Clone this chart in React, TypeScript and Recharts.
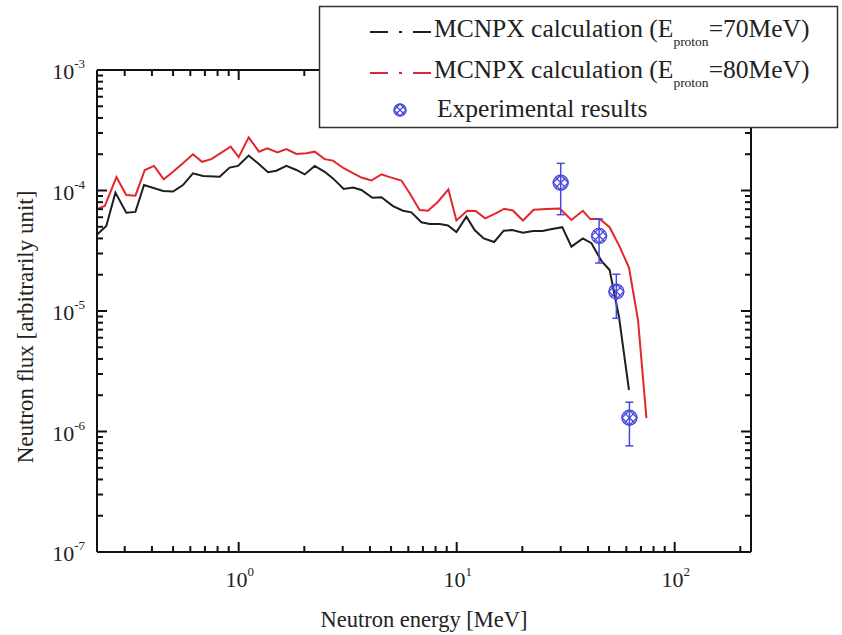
import React from 'react';
import {
  ComposedChart,
  Line,
  Scatter,
  XAxis,
  YAxis,
  ErrorBar,
  Customized,
} from 'recharts';

// ---------- data ----------
const energy70 = [
  0.223, 0.247, 0.272, 0.305, 0.336, 0.368, 0.45, 0.5, 0.555, 0.617, 0.686, 0.818, 0.909, 0.993,
  1.111, 1.226, 1.363, 1.489, 1.655, 1.839, 2.008, 2.232, 2.48, 2.708, 3.031, 3.344, 3.655, 4.106,
  4.515, 5.104, 5.672, 6.198, 6.888, 7.517, 8.356, 9.12, 9.97, 11.08, 12.09, 13.3, 14.86, 16.43,
  17.97, 20.14, 22.39, 24.8, 27.0, 30.5, 33.6, 37.9, 41.5, 46.1, 50.3, 55.5, 61.7,
];
const flux70 = [
  4.27e-5, 5.07e-5, 9.6e-5, 6.55e-5, 6.64e-5, 1.11e-4, 9.9e-5, 9.8e-5, 1.11e-4, 1.39e-4, 1.32e-4,
  1.3e-4, 1.55e-4, 1.6e-4, 1.95e-4, 1.68e-4, 1.42e-4, 1.46e-4, 1.6e-4, 1.48e-4, 1.36e-4, 1.6e-4,
  1.43e-4, 1.26e-4, 1.03e-4, 1.06e-4, 1.01e-4, 8.7e-5, 8.8e-5, 7.43e-5, 6.79e-5, 6.59e-5, 5.45e-5,
  5.27e-5, 5.27e-5, 5.13e-5, 4.53e-5, 6.07e-5, 4.7e-5, 4.0e-5, 3.74e-5, 4.64e-5, 4.7e-5, 4.47e-5,
  4.61e-5, 4.61e-5, 4.76e-5, 4.96e-5, 3.42e-5, 4.01e-5, 3.65e-5, 2.61e-5, 2.19e-5, 8.97e-6, 2.21e-6,
];

const energy80 = [
  0.223, 0.243, 0.275, 0.305, 0.336, 0.371, 0.409, 0.453, 0.5, 0.555, 0.617, 0.679, 0.749, 0.919,
  1.0, 1.111, 1.239, 1.354, 1.505, 1.655, 1.839, 2.045, 2.232, 2.48, 2.708, 3.031, 3.655, 4.062,
  4.515, 5.018, 5.577, 6.087, 6.76, 7.385, 8.21, 9.16, 9.97, 11.17, 12.22, 13.51, 15.1, 16.55, 18.1,
  20.14, 22.55, 25.9, 29.7, 33.6, 37.9, 41.0, 45.3, 50.3, 55.9, 61.7, 67.9, 74.2,
];
const flux80 = [
  6.98e-5, 7.43e-5, 1.29e-4, 9.18e-5, 9.06e-5, 1.48e-4, 1.6e-4, 1.24e-4, 1.43e-4, 1.68e-4, 2.0e-4,
  1.73e-4, 1.82e-4, 2.31e-4, 1.89e-4, 2.76e-4, 2.1e-4, 2.24e-4, 2.07e-4, 2.21e-4, 2.01e-4, 2.04e-4,
  2.1e-4, 1.82e-4, 1.77e-4, 1.53e-4, 1.28e-4, 1.21e-4, 1.36e-4, 1.28e-4, 1.21e-4, 9.49e-5, 6.89e-5,
  6.79e-5, 8.07e-5, 1.02e-4, 5.64e-5, 6.79e-5, 6.76e-5, 5.87e-5, 6.47e-5, 7.06e-5, 6.82e-5, 5.64e-5,
  6.93e-5, 7.03e-5, 7.1e-5, 5.69e-5, 6.79e-5, 5.79e-5, 5.79e-5, 4.96e-5, 3.42e-5, 2.29e-5, 8.41e-6,
  1.29e-6,
];

const expEnergy = [30, 45, 54, 62];
const expFlux = [1.16e-4, 4.2e-5, 1.45e-5, 1.3e-6];
const expLow = [6.3e-5, 2.5e-5, 8.7e-6, 7.6e-7];
const expHigh = [1.68e-4, 5.8e-5, 2.02e-5, 1.75e-6];

const xTicks = [
  0.3, 0.4, 0.5, 0.6, 0.7, 0.8, 0.9, 1, 2, 3, 4, 5, 6, 7, 8, 9, 10, 20, 30, 40, 50, 60, 70, 80, 90,
  100, 200,
];
const xMajor = [1, 10, 100];
const xMajorExp = ['0', '1', '2'];

const yTicks = [
  1e-7, 2e-7, 3e-7, 4e-7, 5e-7, 6e-7, 7e-7, 8e-7, 9e-7,
  1e-6, 2e-6, 3e-6, 4e-6, 5e-6, 6e-6, 7e-6, 8e-6, 9e-6,
  1e-5, 2e-5, 3e-5, 4e-5, 5e-5, 6e-5, 7e-5, 8e-5, 9e-5,
  1e-4, 2e-4, 3e-4, 4e-4, 5e-4, 6e-4, 7e-4, 8e-4, 9e-4,
  1e-3,
];
const yMajor = [1e-7, 1e-6, 1e-5, 1e-4, 1e-3];
const yMajorExp = ['-7', '-6', '-5', '-4', '-3'];

const X_DOMAIN = [0.2239, 223.9];
const Y_DOMAIN = [1e-7, 1e-3];

const legendLabels = ['MCNPX calculation (E', '=70MeV)', '=80MeV)', 'Experimental results'];
const legendSub = 'proton';

// ---------- derived tables ----------
const line70 = energy70.map((e, i) => ({ energy: e, flux: flux70[i] }));
const line80 = energy80.map((e, i) => ({ energy: e, flux: flux80[i] }));
const expData = expEnergy.map((e, i) => ({
  energy: e,
  flux: expFlux[i],
  err: [expFlux[i] - expLow[i], expHigh[i] - expFlux[i]],
}));

// ---------- styles ----------
const FONT = 'Liberation Serif';
const AXIS = '#111';
const TXT = '#222';
const BLACK = '#1e1e1e';
const RED = '#e4262c';
const BLUE = '#4848e0';

const isIn = (arr: number[], v: number) => arr.findIndex((a) => Math.abs(a - v) / a < 1e-9);

const BottomTick = (props: any) => {
  const { x, y, payload } = props;
  const idx = isIn(xMajor, payload.value);
  const len = idx >= 0 ? 10 : 6;
  return (
    <g>
      <line x1={x} y1={y} x2={x} y2={y - len} stroke={AXIS} strokeWidth={2} />
      {idx >= 0 && (
        <text x={x + 1} y={y + 35} textAnchor="middle" fontSize={22} style={{ fontFamily: FONT }} fill={TXT}>
          10
          <tspan dy={-11} fontSize={13}>
            {xMajorExp[idx]}
          </tspan>
        </text>
      )}
    </g>
  );
};

const TopTick = (props: any) => {
  const { x, y, payload } = props;
  const idx = isIn(xMajor, payload.value);
  const len = idx >= 0 ? 10 : 6;
  return <line x1={x} y1={y} x2={x} y2={y + len} stroke={AXIS} strokeWidth={2} />;
};

const LeftTick = (props: any) => {
  const { x, y, payload } = props;
  const idx = isIn(yMajor, payload.value);
  const len = idx >= 0 ? 10 : 6;
  return (
    <g>
      <line x1={x} y1={y} x2={x + len} y2={y} stroke={AXIS} strokeWidth={2} />
      {idx >= 0 && (
        <text x={x - 12} y={y + 9} textAnchor="end" fontSize={22} style={{ fontFamily: FONT }} fill={TXT}>
          10
          <tspan dy={-11} fontSize={13}>
            {yMajorExp[idx]}
          </tspan>
        </text>
      )}
    </g>
  );
};

const RightTick = (props: any) => {
  const { x, y, payload } = props;
  const idx = isIn(yMajor, payload.value);
  const len = idx >= 0 ? 10 : 6;
  return <line x1={x} y1={y} x2={x - len} y2={y} stroke={AXIS} strokeWidth={2} />;
};

const Marker = ({ cx, cy, r = 7 }: { cx: number; cy: number; r?: number }) => {
  const d = r * 0.72;
  return (
    <g stroke={BLUE} fill="none" strokeWidth={1.3}>
      <circle cx={cx} cy={cy} r={r} />
      <path d={`M${cx - d},${cy - d}L${cx + d},${cy + d}M${cx + d},${cy - d}L${cx - d},${cy + d}`} />
      <path d={`M${cx},${cy - r}L${cx + r},${cy}L${cx},${cy + r}L${cx - r},${cy}Z`} />
    </g>
  );
};

const ExpShape = (props: any) => <Marker cx={props.cx} cy={props.cy} r={7.5} />;

const DashDot = ({ y, color }: { y: number; color: string }) => (
  <g stroke={color} strokeWidth={2}>
    <line x1={370} y1={y} x2={388} y2={y} />
    <line x1={399} y1={y} x2={402} y2={y} />
    <line x1={413} y1={y} x2={431} y2={y} />
  </g>
);

const Titles = () => (
  <g style={{ fontFamily: FONT }}>
    <text x={424} y={627} textAnchor="middle" fontSize={22.5} fill={TXT}>
      Neutron energy [MeV]
    </text>
    <text transform="translate(33,327) rotate(-90)" textAnchor="middle" fontSize={23} fill={TXT}>
      Neutron flux [arbitrarily unit]
    </text>
  </g>
);

const LegendOverlay = () => (
  <svg
    width={842}
    height={635}
    style={{ position: 'absolute', left: 0, top: 0, pointerEvents: 'none', fontFamily: FONT }}
  >
    <rect x={319.5} y={6.5} width={518} height={121} fill="#fff" stroke="#333" strokeWidth={1.5} />
    <DashDot y={32} color={BLACK} />
    <text x={434} y={37} fontSize={25.5} fill={TXT}>
      {legendLabels[0]}
      <tspan dy={9} fontSize={13.5}>{legendSub}</tspan>
      <tspan dy={-9}>{legendLabels[1]}</tspan>
    </text>
    <DashDot y={73} color={RED} />
    <text x={434} y={78} fontSize={25.5} fill={TXT}>
      {legendLabels[0]}
      <tspan dy={9} fontSize={13.5}>{legendSub}</tspan>
      <tspan dy={-9}>{legendLabels[2]}</tspan>
    </text>
    <Marker cx={400} cy={110} r={6} />
    <text x={437} y={117} fontSize={25.5} fill={TXT}>
      {legendLabels[3]}
    </text>
  </svg>
);

export default function App() {
  return (
    <div
      style={{
        position: 'fixed',
        left: 0,
        top: 0,
        width: 842,
        height: 635,
        background: '#fff',
        overflow: 'hidden',
      }}
    >
      <ComposedChart width={842} height={635} margin={{ top: 60, right: 81, bottom: 3, left: 0 }}>
        <XAxis
          xAxisId="b"
          dataKey="energy"
          type="number"
          scale="log"
          domain={X_DOMAIN}
          allowDataOverflow
          ticks={xTicks}
          interval={0}
          tickSize={0}
          tickMargin={0}
          tickLine={false}
          tick={<BottomTick />}
          axisLine={{ stroke: AXIS, strokeWidth: 2 }}
          height={80}
        />
        <XAxis
          xAxisId="t"
          orientation="top"
          dataKey="energy"
          type="number"
          scale="log"
          domain={X_DOMAIN}
          allowDataOverflow
          ticks={xTicks}
          interval={0}
          tickSize={0}
          tickMargin={0}
          tickLine={false}
          tick={<TopTick />}
          axisLine={{ stroke: AXIS, strokeWidth: 2 }}
          height={10}
        />
        <YAxis
          yAxisId="l"
          dataKey="flux"
          type="number"
          scale="log"
          domain={Y_DOMAIN}
          allowDataOverflow
          ticks={yTicks}
          interval={0}
          tickSize={0}
          tickMargin={0}
          tickLine={false}
          tick={<LeftTick />}
          axisLine={{ stroke: AXIS, strokeWidth: 2 }}
          width={97}
        />
        <YAxis
          yAxisId="r"
          orientation="right"
          dataKey="flux"
          type="number"
          scale="log"
          domain={Y_DOMAIN}
          allowDataOverflow
          ticks={yTicks}
          interval={0}
          tickSize={0}
          tickMargin={0}
          tickLine={false}
          tick={<RightTick />}
          axisLine={{ stroke: AXIS, strokeWidth: 2 }}
          width={10}
        />
        <Line
          xAxisId="b"
          yAxisId="l"
          data={line70}
          dataKey="flux"
          type="linear"
          stroke={BLACK}
          strokeWidth={2}
          dot={false}
          isAnimationActive={false}
        />
        <Line
          xAxisId="b"
          yAxisId="l"
          data={line80}
          dataKey="flux"
          type="linear"
          stroke={RED}
          strokeWidth={2}
          dot={false}
          isAnimationActive={false}
        />
        <Scatter
          xAxisId="b"
          yAxisId="l"
          data={expData}
          dataKey="flux"
          shape={ExpShape}
          isAnimationActive={false}
        >
          <ErrorBar dataKey="err" direction="y" width={4} stroke={BLUE} strokeWidth={1.5} />
        </Scatter>
        <Customized component={Titles} />
      </ComposedChart>
      <LegendOverlay />
    </div>
  );
}
